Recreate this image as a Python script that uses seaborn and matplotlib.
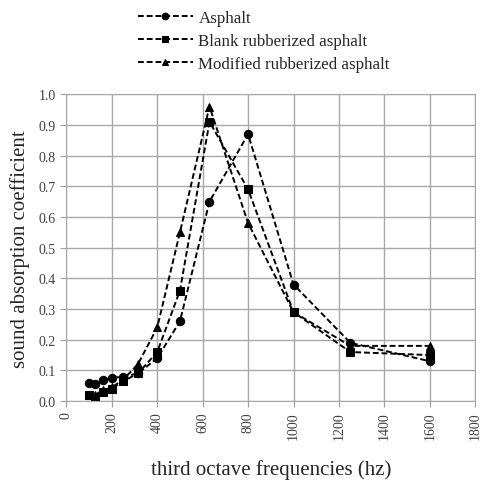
import pandas as pd
import seaborn as sns
import matplotlib
matplotlib.use("Agg")
import matplotlib.pyplot as plt

freqs = [100, 125, 160, 200, 250, 315, 400, 500, 630, 800, 1000, 1250, 1600]
asphalt = [0.06, 0.055, 0.07, 0.075, 0.08, 0.09, 0.14, 0.26, 0.65, 0.87, 0.38, 0.19, 0.13]
blank = [0.02, 0.015, 0.03, 0.04, 0.065, 0.09, 0.16, 0.36, 0.91, 0.69, 0.29, 0.16, 0.15]
modified = [0.02, 0.02, 0.035, 0.045, 0.07, 0.12, 0.24, 0.55, 0.96, 0.58, 0.29, 0.18, 0.18]
names = ["Asphalt", "Blank rubberized asphalt", "Modified rubberized asphalt"]
markers = ["o", "s", "^"]

sns.set_style("white")
plt.rcParams['font.family'] = ['Liberation Serif', 'DejaVu Serif']

fig = plt.figure(figsize=(4.81, 4.81), dpi=100)
ax = fig.add_axes([0.138, 0.164, 0.85, 0.638])

for vals, name, mk in zip([asphalt, blank, modified], names, markers):
    df = pd.DataFrame({"freq": freqs, "alpha": vals})
    sns.lineplot(x="freq", y="alpha", data=df, ax=ax, color="black",
                 linestyle=(0, (3, 1.5)), linewidth=1.4, marker=mk,
                 markersize=6, markeredgecolor="black", label=name)

ax.set_xlim(0, 1800)
ax.set_ylim(0, 1.0)
ax.set_xticks(range(0, 1801, 200))
ax.set_yticks([i / 10 for i in range(11)])
ax.set_yticklabels([f"{i / 10:.1f}" for i in range(11)])
ax.tick_params(axis="x", labelrotation=90)
ax.tick_params(labelsize=10, labelcolor="#404040", length=4, color="#a0a0a0",
               direction="out", bottom=True, left=True)
ax.grid(True, color="#a8a8a8", linewidth=1)
for s in ax.spines.values():
    s.set_color("#a8a8a8")
ax.set_xlabel("third octave frequencies (hz)", fontsize=15, labelpad=14)
ax.set_ylabel("sound absorption coefficient", fontsize=15, labelpad=6)

ax.legend(loc="upper center", bbox_to_anchor=(0.549, 0.998), bbox_transform=fig.transFigure,
          frameon=False, fontsize=12.2, handlelength=3.2, labelspacing=0.4,
          handletextpad=0.35, borderaxespad=0.2, markerscale=0.8)

fig.savefig("out.png", dpi=100)
